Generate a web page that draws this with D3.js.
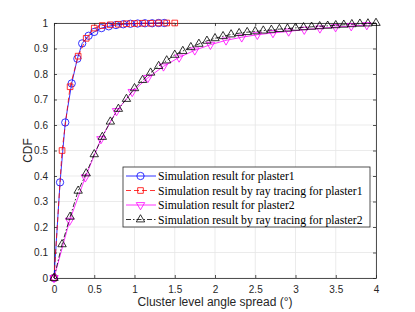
<!DOCTYPE html>
<html>
<head>
<meta charset="utf-8">
<script src="https://cdn.jsdelivr.net/npm/d3@7"></script>
<style>
  body { margin: 0; background: #fff; }
  svg { display: block; }
  .tick text { font-family: "Liberation Sans", Arial, sans-serif; font-size: 10px; fill: #262626; }
</style>
</head>
<body>
<svg id="chart" width="415" height="312"></svg>
<script>
// plaster1, simulation (blue circles)
var simX1 = [0, 0.075, 0.14, 0.22, 0.29, 0.35, 0.43, 0.5, 0.59, 0.68, 0.77, 0.86, 0.95, 1.04, 1.13, 1.22, 1.3, 1.37];
var simY1 = [0, 0.375, 0.61, 0.763, 0.86, 0.92, 0.95, 0.965, 0.98, 0.987, 0.992, 0.995, 0.997, 0.998, 0.999, 0.999, 1, 1];
// plaster1, ray tracing (red squares)
var rayX1 = [0, 0.1, 0.2, 0.3, 0.4, 0.5, 0.6, 0.7, 0.8, 0.9, 1.0, 1.1, 1.2, 1.3, 1.4, 1.5];
var rayY1 = [0, 0.5, 0.75, 0.87, 0.94, 0.98, 0.99, 0.993, 0.995, 0.997, 0.998, 0.999, 0.999, 1, 1, 1];
// plaster2, simulation (magenta down triangles)
var simX2 = [0, 0.194, 0.389, 0.583, 0.777, 0.972, 1.166, 1.36, 1.554, 1.749, 1.943, 2.137, 2.332, 2.526, 2.72, 2.915, 3.109, 3.303, 3.498, 3.692, 3.886];
var simY2 = [0, 0.225, 0.395, 0.545, 0.655, 0.73, 0.785, 0.83, 0.865, 0.893, 0.915, 0.932, 0.944, 0.954, 0.961, 0.967, 0.974, 0.979, 0.984, 0.988, 0.992];
// plaster2, ray tracing (black up triangles)
var rayX2 = [0, 0.1, 0.2, 0.3, 0.4, 0.5, 0.6, 0.7, 0.8, 0.9, 1.0, 1.1, 1.2, 1.3, 1.4, 1.5, 1.6, 1.7, 1.8, 1.9, 2.0,
             2.1, 2.2, 2.3, 2.4, 2.5, 2.6, 2.7, 2.8, 2.9, 3.0, 3.1, 3.2, 3.3, 3.4, 3.5, 3.6, 3.7, 3.8, 3.9, 4.0];
var rayY2 = [0, 0.132, 0.24, 0.342, 0.41, 0.485, 0.553, 0.613, 0.663, 0.702, 0.744, 0.776, 0.805, 0.831, 0.853, 0.875, 0.89, 0.905, 0.918, 0.93, 0.94,
             0.948, 0.955, 0.96, 0.964, 0.967, 0.97, 0.973, 0.976, 0.978, 0.981, 0.983, 0.985, 0.987, 0.989, 0.991, 0.993, 0.995, 0.997, 0.998, 1.0];

var xTicks = [0, 0.5, 1, 1.5, 2, 2.5, 3, 3.5, 4];
var yTicks = [0, 0.1, 0.2, 0.3, 0.4, 0.5, 0.6, 0.7, 0.8, 0.9, 1];
var legendLabels = [
  'Simulation result for plaster1',
  'Simulation result by ray tracing for plaster1',
  'Simulation result for plaster2',
  'Simulation result by ray tracing for plaster2'
];

var margin = {left: 54, top: 23, right: 39, bottom: 34};
var width = 415 - margin.left - margin.right;
var height = 312 - margin.top - margin.bottom;

var svg = d3.select('#chart');
var g = svg.append('g').attr('transform', 'translate(' + margin.left + ',' + margin.top + ')');

var x = d3.scaleLinear().domain([0, 4]).range([0, width]);
var y = d3.scaleLinear().domain([0, 1]).range([height, 0]);

// grid
g.append('g').selectAll('line').data(xTicks).enter().append('line')
  .attr('x1', function(d) { return x(d); }).attr('x2', function(d) { return x(d); })
  .attr('y1', 0).attr('y2', height)
  .attr('stroke', '#e6e6e6').attr('stroke-width', 0.8);
g.append('g').selectAll('line').data(yTicks).enter().append('line')
  .attr('y1', function(d) { return y(d); }).attr('y2', function(d) { return y(d); })
  .attr('x1', 0).attr('x2', width)
  .attr('stroke', '#e6e6e6').attr('stroke-width', 0.8);

// axes, ticks inward
var axisColor = '#262626';
var fmt = function(d) { return d3.format('')(d); };
var xAxis = g.append('g').attr('transform', 'translate(0,' + height + ')')
  .call(d3.axisBottom(x).tickValues(xTicks).tickFormat(fmt).tickSizeInner(-3).tickSizeOuter(0).tickPadding(8));
var yAxis = g.append('g')
  .call(d3.axisLeft(y).tickValues(yTicks).tickFormat(fmt).tickSizeInner(-3).tickSizeOuter(0).tickPadding(6));
var xTop = g.append('g')
  .call(d3.axisTop(x).tickValues(xTicks).tickFormat('').tickSizeInner(-3).tickSizeOuter(0));
var yRight = g.append('g').attr('transform', 'translate(' + width + ',0)')
  .call(d3.axisRight(y).tickValues(yTicks).tickFormat('').tickSizeInner(-3).tickSizeOuter(0));
[xAxis, yAxis, xTop, yRight].forEach(function(a) {
  a.selectAll('path').attr('stroke', axisColor).attr('stroke-width', 0.8);
  a.selectAll('line').attr('stroke', axisColor).attr('stroke-width', 0.8);
});

// series
var series = [
  {xs: simX1, ys: simY1, color: '#0000ff', dash: null, marker: 'circle'},
  {xs: rayX1, ys: rayY1, color: '#ff0000', dash: '5,3', marker: 'square'},
  {xs: simX2, ys: simY2, color: '#ff00ff', dash: null, marker: 'down'},
  {xs: rayX2, ys: rayY2, color: '#000000', dash: '5,2,1.5,2', marker: 'up'}
];

function markerPath(type) {
  if (type == 'circle') return d3.symbol().type(d3.symbolCircle).size(42)();
  if (type == 'square') return d3.symbol().type(d3.symbolSquare).size(32)();
  if (type == 'up') return 'M0,-4.8L4.2,2.4L-4.2,2.4Z';
  return 'M0,4.8L4.2,-2.4L-4.2,-2.4Z';
}

var line = d3.line()
  .x(function(d) { return x(d[0]); })
  .y(function(d) { return y(d[1]); });

series.forEach(function(s) {
  var pts = s.xs.map(function(v, i) { return [v, s.ys[i]]; });
  g.append('path').datum(pts)
    .attr('d', line)
    .attr('fill', 'none')
    .attr('stroke', s.color)
    .attr('stroke-width', 0.8)
    .attr('stroke-dasharray', s.dash);
  g.append('g').selectAll('path').data(pts).enter().append('path')
    .attr('transform', function(d) { return 'translate(' + x(d[0]) + ',' + y(d[1]) + ')'; })
    .attr('d', markerPath(s.marker))
    .attr('fill', 'none')
    .attr('stroke', s.color)
    .attr('stroke-width', 0.8);
});

// axis labels
svg.append('text')
  .attr('x', margin.left + width / 2).attr('y', 306)
  .attr('text-anchor', 'middle')
  .style('font-family', '"Liberation Sans", Arial, sans-serif').style('font-size', '12px').attr('fill', axisColor)
  .text('Cluster level angle spread (\u00B0)');
svg.append('text')
  .attr('transform', 'translate(32,' + (margin.top + height / 2) + ') rotate(-90)')
  .attr('text-anchor', 'middle')
  .style('font-family', '"Liberation Sans", Arial, sans-serif').style('font-size', '12px').attr('fill', axisColor)
  .text('CDF');

// legend
var lg = svg.append('g').attr('transform', 'translate(123,167)');
lg.append('rect').attr('width', 247).attr('height', 60)
  .attr('fill', '#fff').attr('stroke', axisColor).attr('stroke-width', 0.8);
series.forEach(function(s, i) {
  var row = lg.append('g').attr('transform', 'translate(0,' + (9 + i * 14.5) + ')');
  row.append('line').attr('x1', 3).attr('x2', 33).attr('y1', 0).attr('y2', 0)
    .attr('stroke', s.color).attr('stroke-width', 0.8).attr('stroke-dasharray', s.dash);
  row.append('path').attr('transform', 'translate(17.5,0)')
    .attr('d', markerPath(s.marker)).attr('fill', 'none')
    .attr('stroke', s.color).attr('stroke-width', 0.8);
  row.append('text').attr('x', 35).attr('y', 4)
    .style('font-family', '"Liberation Serif", "Times New Roman", serif').style('font-size', '11.7px')
    .attr('fill', '#000')
    .text(legendLabels[i]);
});
</script>
</body>
</html>
